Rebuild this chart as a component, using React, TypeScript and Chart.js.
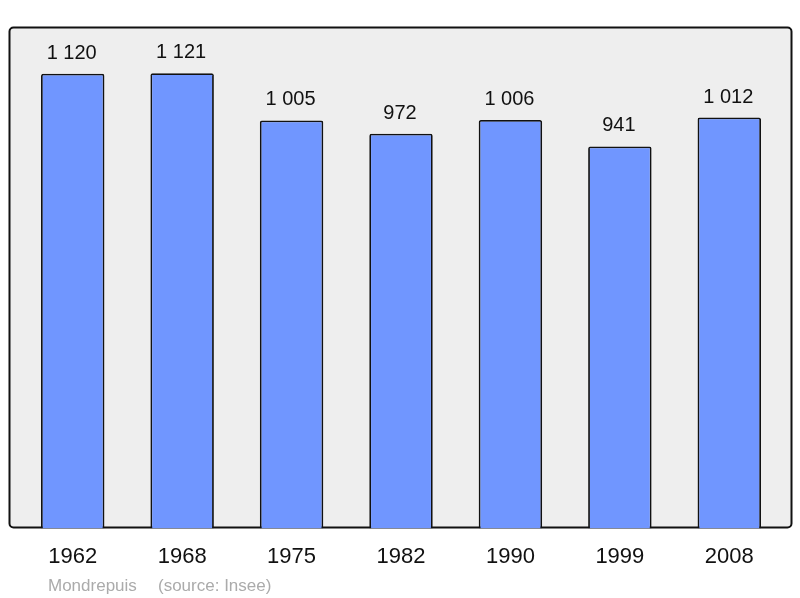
import { useEffect, useRef } from "react";
import { Chart, registerables } from "chart.js";

Chart.register(...registerables);

// Population data (Mondrepuis, source: Insee)
const years = ["1962", "1968", "1975", "1982", "1990", "1999", "2008"];
const population = [1120, 1121, 1005, 972, 1006, 941, 1012];
const valueLabels = ["1 120", "1 121", "1 005", "972", "1 006", "941", "1 012"];
const footerLabels = ["Mondrepuis", "(source: Insee)"];

const FONT = "'Liberation Sans', Arial, sans-serif";

const frame = {
  id: "frame",
  beforeDraw(chart: any) {
    const { ctx } = chart;
    const x = 9.5,
      y = 27.5,
      w = 782,
      h = 500,
      r = 4;
    ctx.save();
    ctx.beginPath();
    ctx.roundRect(x, y, w, h, r);
    ctx.fillStyle = "#eeeeee";
    ctx.fill();
    ctx.lineWidth = 2;
    ctx.strokeStyle = "#111111";
    ctx.stroke();
    ctx.restore();
  },
  afterDatasetsDraw(chart: any) {
    const { ctx } = chart;
    const meta = chart.getDatasetMeta(0);
    ctx.save();
    ctx.font = `20px ${FONT}`;
    ctx.fillStyle = "#111111";
    ctx.textAlign = "center";
    ctx.textBaseline = "alphabetic";
    meta.data.forEach((bar: any, i: number) => {
      ctx.fillText(valueLabels[i], bar.x - 1, bar.y - 15);
    });
    ctx.font = `17px ${FONT}`;
    ctx.fillStyle = "#ababab";
    ctx.textAlign = "left";
    ctx.fillText(footerLabels[0], 48, 591);
    ctx.fillText(footerLabels[1], 158, 591);
    ctx.restore();
  },
};

export default function App() {
  const canvasRef = useRef<HTMLCanvasElement>(null);
  const chartRef = useRef<Chart | null>(null);

  useEffect(() => {
    if (chartRef.current) chartRef.current.destroy();
    if (!canvasRef.current) return;

    chartRef.current = new Chart(canvasRef.current, {
      type: "bar",
      data: {
        labels: years,
        datasets: [
          {
            data: population,
            backgroundColor: "#7096ff",
            borderColor: "#111111",
            borderWidth: 1.8,
            borderRadius: 2,
            barPercentage: 0.58,
            categoryPercentage: 1,
          },
        ],
      },
      options: {
        animation: false,
        responsive: true,
        maintainAspectRatio: false,
        layout: { padding: { top: 27, left: 18, right: 16, bottom: 21 } },
        plugins: {
          legend: { display: false },
          tooltip: { enabled: false },
        },
        scales: {
          x: {
            grid: { display: false },
            border: { display: false },
            ticks: {
              color: "#111111",
              padding: 7,
              font: { family: FONT, size: 22 },
              maxRotation: 0,
            },
          },
          y: {
            display: false,
            min: 0,
            max: 1235,
          },
        },
      },
      plugins: [frame],
    });

    return () => {
      chartRef.current?.destroy();
      chartRef.current = null;
    };
  }, []);

  return (
    <div style={{ position: "absolute", left: 0, top: 0, width: 800, height: 598 }}>
      <canvas ref={canvasRef} />
    </div>
  );
}
